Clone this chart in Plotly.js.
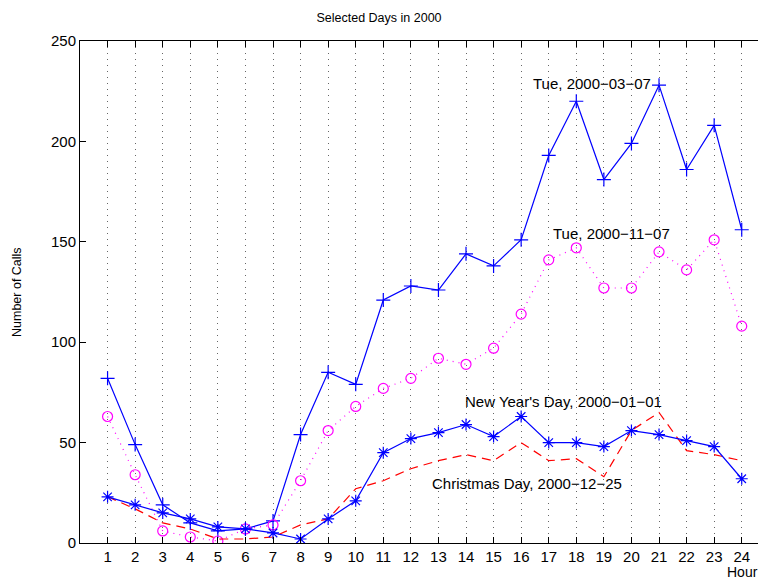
<!DOCTYPE html>
<html>
<head>
<meta charset="utf-8">
<script src="https://cdn.plot.ly/plotly-3.0.1.min.js"></script>
<style>html,body{margin:0;padding:0;background:#fff;}#chart{width:758px;height:580px;}</style>
</head>
<body>
<div id="chart"></div>
<script>
const hours = [1,2,3,4,5,6,7,8,9,10,11,12,13,14,15,16,17,18,19,20,21,22,23,24];
const tue0307 = [82,49,19,10,6,7,11,54,85,79,121,128,126,144,138,151,193,220,181,199,228,186,208,156];
const tue1107 = [63,34,6,3,1,7,9,31,56,68,77,82,92,89,97,114,141,147,127,127,145,136,151,108];
const newYear = [23,19,15,12,8,7,5,2,12,21,45,52,55,59,53,63,50,50,48,56,54,51,48,32];
const christmas = [23,17,10,7,2,2,3,9,12,27,31,37,41,44,41,50,41,42,33,56,65,46,44,41];
const yTicks = [0,50,100,150,200,250];
const labels = {
  title: "Selected Days in 2000",
  ylabel: "Number of Calls",
  xlabel: "Hour",
  tue0307: "Tue, 2000\u221203\u221207",
  tue1107: "Tue, 2000\u221211\u221207",
  newYear: "New Year's Day, 2000\u221201\u221201",
  christmas: "Christmas Day, 2000\u221212\u221225"
};

const FONT = "Liberation Sans, Arial, Helvetica, sans-serif";

const traces = [
  {x: hours, y: tue0307, mode: 'lines+markers', name: labels.tue0307,
   line: {color: '#0000ff', width: 1.2},
   marker: {symbol: 'cross-thin-open', size: 10, color: '#0000ff', line: {color: '#0000ff', width: 1.2}}},
  {x: hours, y: tue1107, mode: 'lines+markers', name: labels.tue1107,
   line: {color: '#ff00ff', width: 1.2, dash: '1px,5px'},
   marker: {symbol: 'circle-open', size: 10, color: '#ff00ff', line: {color: '#ff00ff', width: 1.2}}},
  {x: hours, y: christmas, mode: 'lines', name: labels.christmas,
   line: {color: '#ff0000', width: 1.2, dash: '9px,6px'}},
  {x: hours, y: newYear, mode: 'lines+markers', name: labels.newYear,
   line: {color: '#0000ff', width: 1.2},
   marker: {symbol: 'asterisk-open', size: 10, color: '#0000ff', line: {color: '#0000ff', width: 1.2}}}
];

function ann(text, xpx, ypx, size, extra) {
  return Object.assign({
    text: text, xref: 'paper', yref: 'paper',
    x: (xpx - 80) / 678, y: (543 - ypx) / 502,
    xanchor: 'left', yanchor: 'middle', showarrow: false,
    font: {family: FONT, size: size, color: '#000'}
  }, extra || {});
}

const layout = {
  width: 758, height: 580,
  margin: {l: 80, r: 0, t: 41, b: 37, pad: 0},
  paper_bgcolor: '#fff', plot_bgcolor: '#fff',
  showlegend: false,
  font: {family: FONT, size: 15, color: '#000'},
  title: {text: labels.title, font: {family: FONT, size: 12.5, color: '#000'},
          xref: 'container', yref: 'container', x: 379/758, y: 1 - 18/580,
          xanchor: 'center', yanchor: 'middle'},
  xaxis: {
    range: [0, 24.59], tickvals: hours, ticktext: hours.map(String),
    ticks: 'inside', ticklen: 6, tickcolor: '#000', tickwidth: 1,
    showline: true, linecolor: '#000', linewidth: 1, mirror: 'ticks',
    showgrid: true, gridcolor: '#666', gridwidth: 1, griddash: '1px,5px',
    zeroline: false, tickfont: {family: FONT, size: 15, color: '#000'}
  },
  yaxis: {
    range: [0, 250], tickvals: yTicks, ticktext: yTicks.map(String),
    ticks: 'inside', ticklen: 6, tickcolor: '#000', tickwidth: 1,
    showline: true, linecolor: '#000', linewidth: 1, mirror: false,
    showgrid: false, zeroline: false,
    tickfont: {family: FONT, size: 15, color: '#000'}
  },
  annotations: [
    ann(labels.tue0307, 531, 83, 15),
    ann(labels.tue1107, 551, 233, 15),
    ann(labels.newYear, 463, 401, 15),
    ann(labels.christmas, 430, 483, 15),
    ann(labels.xlabel, 742, 572, 14, {xanchor: 'center'}),
    ann(labels.ylabel, 17, 292, 12.5, {xanchor: 'center', textangle: -90})
  ]
};

Plotly.newPlot('chart', traces, layout, {displayModeBar: false, staticPlot: true});
</script>
</body>
</html>
